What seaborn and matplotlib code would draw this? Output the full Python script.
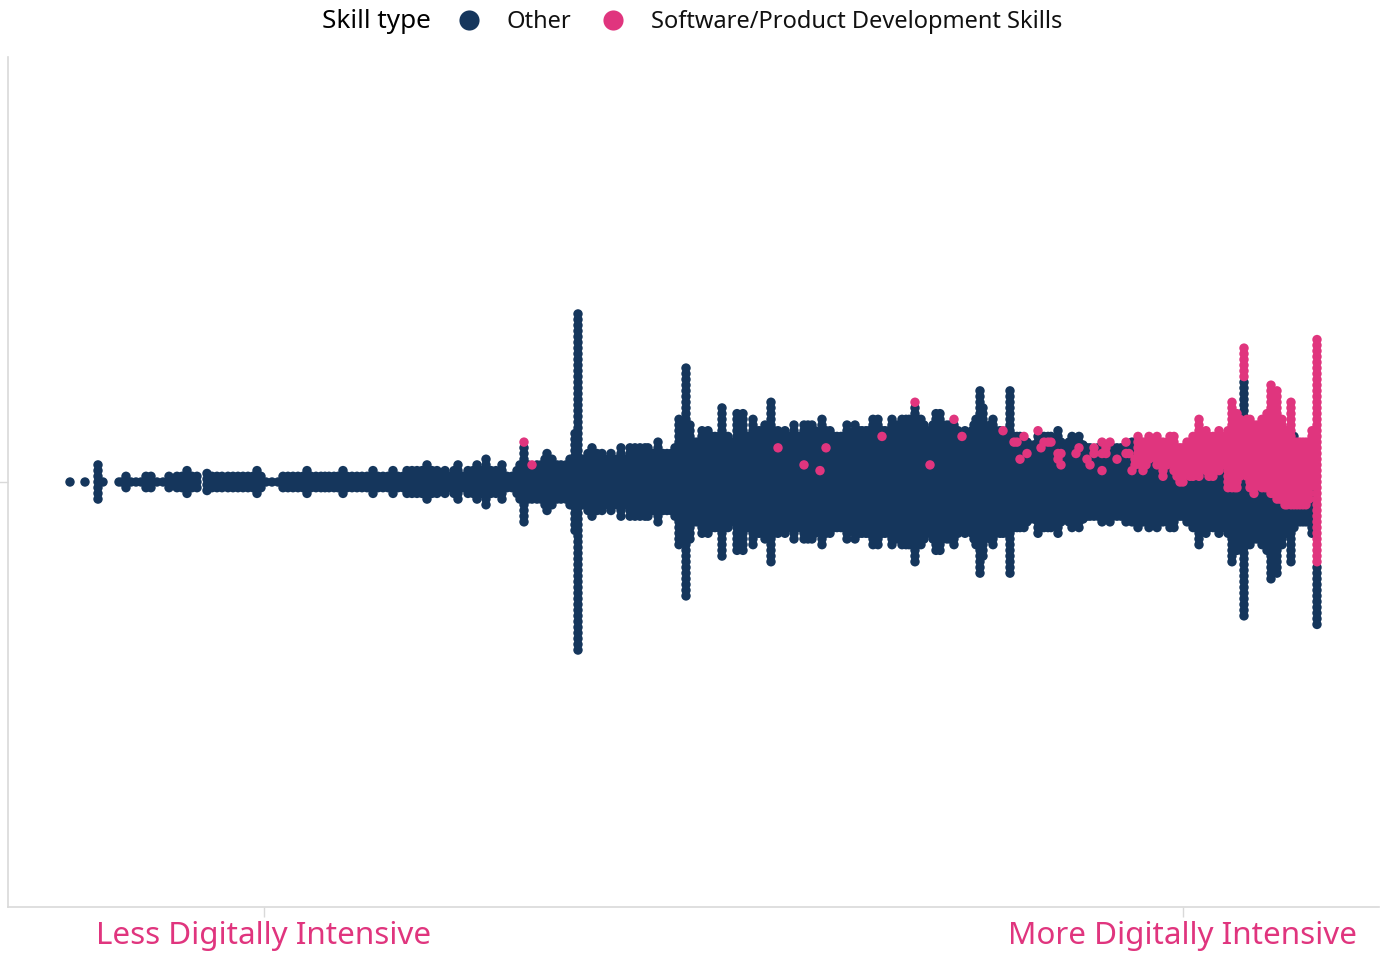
import numpy as np
import pandas as pd
import matplotlib
matplotlib.use('Agg')
import matplotlib.pyplot as plt
from matplotlib.lines import Line2D
import seaborn as sns

# Dot stacks: position along the digital intensity axis and number of dots in the stack
left_x = [70, 85, 98, 103, 119, 122, 126, 131, 136, 141, 146, 151, 157, 163, 169, 173, 177, 182, 187, 192, 197,
          207, 212, 217, 222, 228, 233, 238, 243, 248, 253, 257, 261, 266, 272, 278, 283, 288, 293, 298, 303,
          307, 311, 316, 321, 325, 329, 334, 338, 343, 347]
left_n = [1, 1, 7, 1, 1, 1, 3, 1, 1, 1, 3, 3, 1, 1, 3, 1, 3, 3, 5, 3, 3,
          4, 3, 3, 3, 3, 3, 3, 3, 3, 3, 5, 3, 1, 1, 1, 3, 3, 3, 3, 3,
          5, 3, 3, 3, 3, 3, 3, 3, 5, 3]

rise_x = [352, 357, 362, 367, 373, 378, 383, 388, 393, 398, 403, 407, 412, 417, 422, 427, 432, 437, 441, 445,
          450, 454, 458, 463, 468, 473, 477, 482, 486, 491, 496, 502, 507, 512, 517, 520, 524, 528, 532, 537,
          541, 545, 547, 552, 557, 561, 566, 570, 575, 578, 583, 588, 592, 597, 602, 605, 611, 617, 621, 626,
          630, 635, 640, 645, 648, 653, 658, 663, 667, 671, 675, 679, 683, 686, 690, 694, 697, 702, 705, 708,
          712, 715, 719, 722, 725, 728, 732, 737, 740, 743, 748, 753, 756, 759, 762, 765, 768, 771, 774, 778]
rise_n = [3, 3, 3, 3, 5, 3, 3, 3, 5, 3, 3, 5, 5, 5, 5, 7, 5, 5, 3, 5,
          3, 5, 7, 3, 5, 5, 7, 5, 9, 5, 5, 7, 3, 3, 5, 7, 15, 7, 7, 7,
          7, 9, 11, 9, 7, 7, 7, 9, 18, 60, 9, 11, 13, 11, 11, 9, 11, 9, 13, 9,
          13, 13, 13, 13, 13, 11, 15, 11, 11, 11, 13, 23, 15, 41, 21, 15, 15, 19, 17, 19,
          17, 17, 17, 27, 17, 17, 15, 25, 19, 25, 17, 23, 19, 19, 19, 21, 19, 29, 19, 19]

body_x = [781, 785, 790, 794, 797, 800, 804, 808, 812, 815, 817, 820, 822, 826, 830, 834, 837, 841, 844, 847,
          851, 855, 859, 862, 866, 869, 873, 876, 878, 882, 885, 889, 892, 896, 899, 902, 906, 909, 912, 915,
          918, 921, 924, 927, 930, 933, 936, 940, 943, 947, 950, 954, 958, 962, 965, 969, 972, 974, 976, 980,
          983, 986, 990, 993, 996, 1000, 1003, 1007, 1010, 1014, 1017, 1020, 1024, 1027, 1030, 1034, 1038, 1041,
          1044, 1048, 1051, 1054]
body_n = [17, 19, 17, 21, 17, 17, 21, 21, 21, 19, 16, 17, 23, 19, 19, 17, 17, 17, 17, 21,
          17, 21, 19, 19, 19, 19, 23, 21, 23, 19, 19, 19, 23, 21, 21, 23, 23, 23, 23, 29,
          23, 23, 21, 19, 19, 21, 25, 25, 21, 21, 21, 23, 19, 17, 19, 17, 19, 21, 23, 33,
          27, 19, 21, 23, 19, 19, 19, 19, 33, 17, 17, 17, 17, 15, 14, 14, 19, 17,
          17, 17, 17, 15]

tail_x = [1058, 1061, 1065, 1069, 1072, 1076, 1079, 1083, 1087, 1090, 1094, 1098, 1102, 1106, 1110, 1113, 1117,
          1121, 1126, 1129, 1132, 1135, 1138, 1141, 1143, 1146, 1149, 1153, 1157, 1160, 1163, 1167, 1170, 1174,
          1177, 1180, 1183, 1187, 1190, 1193, 1196, 1199, 1202, 1206, 1209, 1213, 1216, 1219, 1222, 1225, 1228,
          1232, 1235, 1237, 1240, 1244, 1247, 1250, 1254, 1257, 1260, 1262, 1265, 1267, 1271, 1274, 1277, 1280,
          1282, 1285, 1287, 1291, 1294, 1297, 1300, 1303, 1306, 1309, 1312, 1317]
tail_n = [19, 15, 14, 15, 17, 15, 17, 14, 13, 13, 13, 13, 15, 13, 15, 13, 13,
          13, 15, 13, 15, 15, 17, 15, 15, 15, 17, 15, 17, 15, 15, 15, 17, 17,
          13, 13, 13, 15, 15, 17, 17, 23, 17, 19, 17, 17, 17, 19, 17, 17, 19,
          29, 21, 25, 23, 48, 23, 23, 21, 21, 21, 23, 23, 25, 35, 25, 33, 23,
          23, 19, 19, 29, 17, 15, 15, 15, 15, 15, 19, 51]

# Software/Product dots: stack position and the rows they fill, counted from the stack middle
single_x = [524, 532, 778, 803, 820, 826, 883, 915, 929, 954, 963, 1003, 1013, 1017, 1020, 1024, 1026, 1030, 1034,
            1038, 1041, 1044, 1048, 1051, 1058, 1061, 1065, 1058, 1061, 1079, 1076, 1087, 1090, 1094, 1094, 1102,
            1102, 1110, 1106, 1106, 1117, 1102, 1126, 1126, 1129, 1132, 1135, 1135]
single_row = [7, 3, 6, 3, 2, 6, 8, 14, 3, 11, 8, 9, 7, 7, 4, 8, 5, 5, 4,
              9, 6, 7, 7, 7, 5, 5, 5, 4, 3, 6, 5, 4, 3, 6, 5, 7,
              5, 7, 6, 5, 4, 2, 7, 5, 5, 2, 4, 3]

run_x = [1138, 1141, 1143, 1146, 1149, 1153, 1157, 1160, 1163, 1167, 1170, 1174, 1177, 1180, 1183, 1187, 1190,
         1193, 1196, 1199, 1202, 1206, 1209, 1213, 1216, 1219, 1222, 1225, 1228, 1232, 1235, 1237, 1240, 1244,
         1244, 1247, 1250, 1254, 1257, 1260, 1262, 1265, 1267, 1271, 1274, 1277, 1280, 1282, 1285, 1287, 1291,
         1294, 1297, 1300, 1303, 1306, 1309, 1312, 1317]
run_hi = [8, 7, 7, 6, 8, 7, 8, 7, 7, 7, 8, 8, 6, 6, 6, 7, 7,
          8, 8, 11, 8, 9, 8, 8, 8, 9, 8, 8, 9, 14, 10, 12, 11, 23.5,
          10.5, 11, 11, 10, 10, 10, 11, 11, 12, 17, 12, 16, 11, 11, 9, 9, 14,
          7, 7, 7, 7, 7, 7, 9, 25]
run_lo = [5, 3, 2, 3, 4, 5, 3, 4, 1, 3, 4, 2, 1, 0, 0, 2, 1,
          1, 2, 1, 3, 2, 1, 1, 3, 2, 3, 3, -1, -1, -1, -1, 1, 18.5,
          1.5, 1, -1, -2, 0, 0, -1, -1, -1, -2, -2, -3, -3, -3, -4, -4, -4,
          -4, -4, -4, -4, -4, -3, 0, -14]

tick_pos = [264, 1183]
tick_labels = ['Less Digitally Intensive', 'More Digitally Intensive']

NAVY = '#15365c'
PINK = '#e0357e'
GREY = '#d9d9d9'


def build_dots():
    xs = np.array(left_x + rise_x + body_x + tail_x)
    ns = np.array(left_n + rise_n + body_n + tail_n)
    rows = []
    for x, n in zip(xs, ns):
        for r in np.arange(n) - (n - 1) / 2:
            rows.append((x, r, 'Other'))
    df = pd.DataFrame(rows, columns=['intensity', 'row', 'skill'])

    # mark the software rows, snapping to the nearest stack
    spans = [(x, r, r) for x, r in zip(single_x, single_row)] + list(zip(run_x, run_hi, run_lo))
    for x, hi, lo in spans:
        col = xs[np.argmin(np.abs(xs - x))]
        hit = (df['intensity'] == col) & (df['row'] <= hi + 0.49) & (df['row'] >= lo - 0.49)
        df.loc[hit, 'skill'] = 'Software/Product Development Skills'
    return df.sort_values('skill', kind='stable')


def main():
    df = build_dots()
    sns.set_theme(style='white')
    plt.rcParams['font.family'] = ['Noto Sans', 'DejaVu Sans']

    fig = plt.figure(figsize=(13.89, 9.55), dpi=100)
    ax = fig.add_axes([8 / 1389, 1 - 907 / 955, 1371 / 1389, 850 / 955])
    sns.scatterplot(data=df, x='intensity', y='row', hue='skill',
                    palette={'Other': NAVY, 'Software/Product Development Skills': PINK},
                    s=46, linewidth=0, legend=False, ax=ax)
    ax.set_xlim(8, 1379)
    ax.set_ylim(-74.6, 74.6)
    ax.set_xlabel('')
    ax.set_ylabel('')
    ax.set_xticks(tick_pos, tick_labels, color=PINK, fontsize=22.6)
    ax.set_yticks([0], [''])
    ax.tick_params(axis='both', length=7, width=1, color=GREY, pad=3, bottom=True, left=True)
    sns.despine(ax=ax)
    for side in ['left', 'bottom']:
        ax.spines[side].set_color(GREY)
        ax.spines[side].set_linewidth(1.2)

    handles = [Line2D([], [], linestyle='', marker='o', markersize=14.5, markeredgewidth=0, color=c)
               for c in [NAVY, PINK]]
    fig.text(322 / 1389, 1 - 22 / 955, 'Skill type', fontsize=18.8, va='center', ha='left', color='black')
    fig.legend(handles, ['Other', 'Software/Product Development Skills'], ncol=2, frameon=False,
               loc='center left', bbox_to_anchor=(445 / 1389, 1 - 22 / 955), fontsize=17,
               labelcolor='#111111', handletextpad=0.62, columnspacing=0.76, borderpad=0, borderaxespad=0)

    fig.savefig('out.png', dpi=100)


if __name__ == '__main__':
    main()
